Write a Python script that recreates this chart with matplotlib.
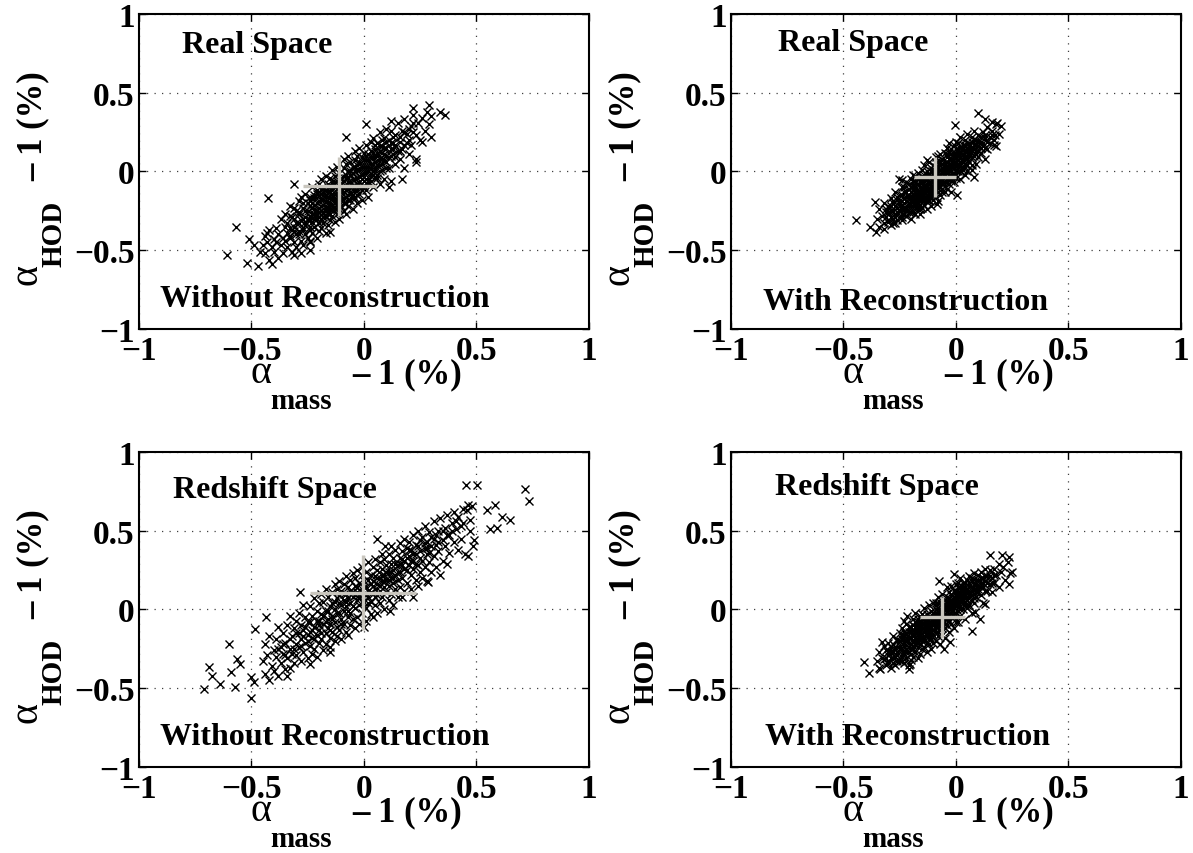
import numpy as np
import matplotlib
matplotlib.use("Agg")
from matplotlib import pyplot as plt

plt.rcParams["font.family"] = ["Liberation Serif", "DejaVu Serif"]
plt.rcParams["font.weight"] = "bold"

# alpha_HOD - 1 against alpha_mass - 1 (in %) for each mock
real_norecon = [
    # sparse tails
    (-0.61,-0.53), (-0.57,-0.35), (-0.52,-0.58), (-0.47,-0.60), (-0.41,-0.59), (-0.51,-0.43),
    (-0.49,-0.47), (-0.46,-0.51), (-0.43,-0.39), (-0.425,-0.17), (-0.31,-0.08), (-0.24,-0.50),
    (-0.24,-0.45), (-0.15,-0.385), (-0.31,-0.53), (-0.28,-0.52), (-0.08,0.22), (0.01,0.30),
    (0.29,0.42), (0.34,0.38), (0.36,0.36), (0.30,0.35), (0.22,0.40), (0.17,-0.05), (0.11,-0.10),
    (0.23,0.06), (0.26,0.19), (0.12,0.32),
    # body
    (-0.45,-0.47), (-0.44,-0.41), (-0.44,-0.52), (-0.43,-0.45), (-0.42,-0.56), (-0.42,-0.37),
    (-0.41,-0.48), (-0.40,-0.43),
    (-0.40,-0.51), (-0.39,-0.36), (-0.39,-0.45), (-0.38,-0.55), (-0.38,-0.40), (-0.37,-0.30),
    (-0.37,-0.47), (-0.36,-0.42), (-0.36,-0.52), (-0.35,-0.35), (-0.35,-0.44),
    (-0.35,-0.27), (-0.34,-0.39), (-0.34,-0.48), (-0.34,-0.33), (-0.33,-0.42), (-0.33,-0.22),
    (-0.32,-0.37), (-0.32,-0.51), (-0.32,-0.29), (-0.31,-0.45), (-0.31,-0.35), (-0.30,-0.40),
    (-0.30,-0.25), (-0.30,-0.48),
    (-0.30,-0.33), (-0.29,-0.19), (-0.29,-0.38), (-0.29,-0.27), (-0.28,-0.44), (-0.28,-0.31),
    (-0.28,-0.16), (-0.27,-0.36), (-0.27,-0.23), (-0.27,-0.47), (-0.26,-0.29), (-0.26,-0.40),
    (-0.26,-0.14), (-0.26,-0.34), (-0.25,-0.25), (-0.25,-0.42), (-0.25,-0.20), (-0.25,-0.31),
    (-0.24,-0.37), (-0.24,-0.18), (-0.24,-0.28), (-0.24,-0.44), (-0.23,-0.10), (-0.23,-0.32),
    (-0.23,-0.23), (-0.23,-0.39), (-0.22,-0.15), (-0.22,-0.27), (-0.22,-0.35), (-0.22,-0.21),
    (-0.21,-0.42), (-0.21,-0.30), (-0.21,-0.12), (-0.21,-0.25), (-0.20,-0.19), (-0.20,-0.33),
    (-0.20,-0.08), (-0.20,-0.38), (-0.20,-0.26), (-0.24,-0.31),
    (-0.19,-0.14), (-0.19,-0.30), (-0.19,-0.22), (-0.19,-0.05), (-0.19,-0.36), (-0.18,-0.26),
    (-0.18,-0.11), (-0.18,-0.18), (-0.18,-0.33), (-0.17,-0.03), (-0.17,-0.23), (-0.17,-0.29),
    (-0.17,-0.15), (-0.17,-0.39), (-0.16,-0.08), (-0.16,-0.20), (-0.16,-0.27), (-0.16,-0.34),
    (-0.16,-0.13), (-0.15,-0.24), (-0.15,-0.17), (-0.15,-0.04), (-0.15,-0.31), (-0.15,-0.10),
    (-0.14,-0.21), (-0.14,-0.07), (-0.14,-0.28), (-0.14,-0.14), (-0.14,0.01), (-0.13,-0.18),
    (-0.13,-0.24), (-0.13,-0.10), (-0.13,-0.32), (-0.13,-0.03), (-0.12,-0.15), (-0.12,-0.21),
    (-0.12,-0.27), (-0.12,-0.06), (-0.12,0.03), (-0.11,-0.12), (-0.11,-0.19), (-0.11,-0.30),
    (-0.11,-0.01), (-0.11,-0.24), (-0.10,-0.08), (-0.10,-0.16), (-0.10,-0.22), (-0.10,-0.04),
    (-0.10,-0.13),
    (-0.09,-0.17), (-0.09,0.02), (-0.09,-0.09), (-0.09,-0.25), (-0.09,0.08), (-0.08,-0.12),
    (-0.08,-0.04), (-0.08,-0.20), (-0.08,0.05), (-0.08,-0.27), (-0.07,-0.07), (-0.07,-0.15),
    (-0.07,0.00), (-0.07,-0.22), (-0.07,0.10), (-0.06,-0.10), (-0.06,-0.02), (-0.06,-0.18),
    (-0.06,0.06), (-0.06,-0.13), (-0.05,-0.05), (-0.05,-0.24), (-0.05,0.03), (-0.05,-0.15),
    (-0.04,-0.09), (-0.04,0.07), (-0.04,-0.17), (-0.04,0.00), (-0.04,0.13), (-0.03,-0.04),
    (-0.03,-0.12), (-0.03,0.04), (-0.03,-0.20), (-0.03,0.10), (-0.02,-0.07), (-0.02,0.01),
    (-0.02,-0.14), (-0.02,0.15), (-0.02,0.06), (-0.01,-0.02), (-0.01,-0.10), (-0.01,0.09),
    (-0.01,-0.18), (0.00,0.03), (0.00,-0.06), (0.00,0.12),
    (0.01,-0.01), (0.01,0.07), (0.01,-0.12), (0.01,0.17), (0.02,0.03), (0.02,-0.06),
    (0.02,0.11), (0.02,-0.16), (0.03,0.05), (0.03,0.19), (0.03,-0.03), (0.03,0.13),
    (0.04,0.00), (0.04,0.09), (0.04,-0.10), (0.04,0.21), (0.05,0.06), (0.05,-0.04),
    (0.05,0.14), (0.05,0.02),
    (0.06,0.10), (0.06,-0.02), (0.06,0.18), (0.07,0.04), (0.07,0.13), (0.07,0.25),
    (0.07,-0.08), (0.08,0.08), (0.08,0.16), (0.08,0.01), (0.09,0.21), (0.09,0.11),
    (0.09,-0.05), (0.10,0.06), (0.10,0.15), (0.10,0.27),
    (0.11,0.09), (0.11,0.20), (0.11,0.02), (0.12,0.14), (0.12,0.26), (0.12,-0.06),
    (0.13,0.11), (0.13,0.18), (0.14,0.05), (0.14,0.23), (0.15,0.13), (0.15,0.31),
    (0.16,0.19), (0.16,0.08), (0.17,0.26), (0.17,0.14), (0.18,0.02), (0.18,0.33),
    (0.19,0.18), (0.19,0.24), (0.20,0.11),
    (0.21,0.29), (0.21,0.17), (0.22,0.36), (0.23,0.23), (0.23,0.08), (0.24,0.31), (0.25,0.20),
    (0.26,0.34), (0.27,0.26), (0.28,0.38), (0.29,0.30), (0.30,0.22),
    # dense middle
    (-0.33,-0.36), (-0.33,-0.28), (-0.33,-0.41), (-0.31,-0.30), (-0.31,-0.38), (-0.31,-0.23),
    (-0.29,-0.33), (-0.29,-0.26), (-0.29,-0.40), (-0.27,-0.30), (-0.27,-0.20), (-0.27,-0.37),
    (-0.26,-0.25), (-0.26,-0.32), (-0.24,-0.22), (-0.24,-0.29), (-0.24,-0.35), (-0.24,-0.16),
    (-0.23,-0.27), (-0.23,-0.20), (-0.22,-0.24), (-0.22,-0.30), (-0.22,-0.17), (-0.21,-0.20),
    (-0.21,-0.27), (-0.21,-0.14), (-0.20,-0.23), (-0.20,-0.15), (-0.20,-0.29), (-0.19,-0.18),
    (-0.19,-0.25), (-0.19,-0.11), (-0.18,-0.21), (-0.18,-0.15), (-0.18,-0.29), (-0.17,-0.19),
    (-0.17,-0.12), (-0.17,-0.25), (-0.16,-0.16), (-0.16,-0.23), (-0.16,-0.10), (-0.15,-0.20),
    (-0.15,-0.13), (-0.15,-0.27), (-0.14,-0.17), (-0.14,-0.10), (-0.14,-0.24), (-0.13,-0.14),
    (-0.13,-0.20), (-0.13,-0.07), (-0.12,-0.18), (-0.12,-0.11), (-0.12,-0.24), (-0.11,-0.15),
    (-0.11,-0.08), (-0.11,-0.21), (-0.10,-0.11), (-0.10,-0.18), (-0.10,-0.05), (-0.09,-0.13),
    (-0.09,-0.06), (-0.09,-0.20), (-0.08,-0.09), (-0.08,-0.16), (-0.08,-0.02), (-0.07,-0.11),
    (-0.07,-0.04), (-0.07,-0.18), (-0.06,-0.07), (-0.06,-0.14), (-0.06,0.00), (-0.05,-0.09),
    (-0.05,-0.01), (-0.05,-0.17), (-0.04,-0.05), (-0.04,-0.12), (-0.04,0.03), (-0.03,-0.08),
    (-0.03,0.01), (-0.03,-0.15), (-0.02,-0.03), (-0.02,-0.10), (-0.02,0.05), (-0.01,-0.05),
    (-0.01,0.03), (-0.01,-0.12), (0.00,-0.01), (0.00,0.07), (0.00,-0.09), (0.01,0.03),
    (0.01,-0.05), (0.01,0.10), (0.02,0.00), (0.02,0.07), (0.02,-0.08), (0.03,0.02),
    (0.03,0.09), (0.03,-0.06), (0.04,0.05), (0.04,-0.02), (0.04,0.12), (0.05,0.09),
    (0.05,0.01), (0.05,0.17), (0.06,0.04), (0.06,0.12), (0.06,-0.04), (0.07,0.08),
    (0.07,0.16), (0.07,0.00), (0.08,0.12), (0.08,0.05), (0.08,0.20), (0.09,0.07),
    (0.09,0.15), (0.10,0.10), (0.10,0.19), (0.10,0.02), (0.12,0.10), (0.12,0.18),
    (0.13,0.14), (0.13,0.22), (0.14,0.09), (0.14,0.17), (0.16,0.13), (0.16,0.22),
    (0.18,0.17), (0.18,0.25), (0.20,0.20), (0.20,0.27), (0.22,0.25), (0.22,0.31),
]

real_recon = [
    (-0.444,-0.311), (-0.381,-0.353), (-0.356,-0.385), (-0.321,-0.364), (-0.359,-0.195),
    (0.10,0.372), (0.16,0.313), (0.182,0.309), (0.13,0.334), (0.175,0.229), (0.167,0.165),
    (0.079,-0.036), (0.004,-0.152), (-0.084,-0.205), (-0.003,0.292), (-0.24,-0.057),
    (-0.255,-0.047),
    (-0.35,-0.30), (-0.34,-0.35), (-0.34,-0.24), (-0.33,-0.28), (-0.32,-0.33), (-0.32,-0.20),
    (-0.31,-0.26), (-0.30,-0.31),
    (-0.30,-0.22), (-0.30,-0.27), (-0.29,-0.34), (-0.29,-0.17), (-0.29,-0.25), (-0.28,-0.30),
    (-0.28,-0.20), (-0.27,-0.27), (-0.27,-0.13), (-0.27,-0.33), (-0.26,-0.23), (-0.26,-0.18),
    (-0.25,-0.29), (-0.25,-0.25),
    (-0.25,-0.15), (-0.25,-0.20), (-0.24,-0.27), (-0.24,-0.10), (-0.24,-0.22), (-0.24,-0.31),
    (-0.23,-0.17), (-0.23,-0.24), (-0.23,-0.13), (-0.22,-0.28), (-0.22,-0.19), (-0.22,-0.07),
    (-0.22,-0.23), (-0.21,-0.15), (-0.21,-0.26), (-0.21,-0.11), (-0.21,-0.20), (-0.20,-0.30),
    (-0.20,-0.17), (-0.20,-0.05), (-0.20,-0.22), (-0.20,-0.13),
    (-0.19,-0.09), (-0.19,-0.19), (-0.19,-0.26), (-0.19,-0.14), (-0.19,-0.02), (-0.18,-0.22),
    (-0.18,-0.11), (-0.18,-0.17), (-0.18,-0.06), (-0.18,-0.27), (-0.17,-0.13), (-0.17,-0.20),
    (-0.17,-0.01), (-0.17,-0.08), (-0.17,-0.24), (-0.16,-0.16), (-0.16,-0.10), (-0.16,-0.21),
    (-0.16,-0.04), (-0.16,-0.13), (-0.16,-0.27), (-0.15,-0.18), (-0.15,-0.07), (-0.15,-0.12),
    (-0.15,-0.23), (-0.15,0.01), (-0.17,-0.16), (-0.19,-0.12), (-0.18,-0.03), (-0.16,-0.19),
    (-0.14,-0.09), (-0.14,-0.15), (-0.14,-0.02), (-0.14,-0.21), (-0.14,0.04), (-0.13,-0.12),
    (-0.13,-0.05), (-0.13,-0.18), (-0.13,0.00), (-0.13,-0.24), (-0.12,-0.08), (-0.12,-0.14),
    (-0.12,0.06), (-0.12,-0.02), (-0.12,-0.19), (-0.11,-0.11), (-0.11,-0.04), (-0.11,-0.16),
    (-0.11,0.02), (-0.11,-0.22), (-0.10,-0.07), (-0.10,-0.13), (-0.10,0.04), (-0.10,-0.01),
    (-0.10,-0.18), (-0.14,-0.06), (-0.13,-0.09), (-0.12,-0.11), (-0.11,-0.07), (-0.10,-0.10),
    (-0.15,-0.03), (-0.13,0.07), (-0.12,-0.16), (-0.11,0.00),
    (-0.09,-0.04), (-0.09,0.03), (-0.09,-0.10), (-0.09,-0.16), (-0.09,0.09), (-0.08,-0.07),
    (-0.08,0.00), (-0.08,-0.13), (-0.08,0.06), (-0.08,-0.19), (-0.07,-0.02), (-0.07,-0.09),
    (-0.07,0.04), (-0.07,0.11), (-0.07,-0.15), (-0.06,-0.05), (-0.06,0.02), (-0.06,-0.11),
    (-0.06,0.08), (-0.06,-0.01), (-0.05,-0.07), (-0.05,0.05), (-0.05,0.12), (-0.05,-0.13),
    (-0.05,0.00), (-0.09,-0.01), (-0.08,-0.04), (-0.07,0.01), (-0.06,-0.08), (-0.05,0.03),
    (-0.09,0.06), (-0.08,0.10), (-0.07,-0.06), (-0.06,0.05),
    (-0.04,0.02), (-0.04,0.09), (-0.04,-0.05), (-0.04,0.15), (-0.04,-0.11), (-0.03,0.05),
    (-0.03,0.00), (-0.03,0.12), (-0.03,-0.08), (-0.03,0.18), (-0.02,0.03), (-0.02,0.08),
    (-0.02,-0.03), (-0.02,0.14), (-0.02,-0.13), (-0.01,0.06), (-0.01,0.11), (-0.01,-0.01),
    (-0.01,0.17), (-0.01,-0.07), (0.00,0.04), (0.00,0.09), (0.00,0.14), (0.00,-0.04),
    (0.00,0.01), (-0.04,0.06), (-0.03,0.08), (-0.02,0.11), (-0.01,0.02), (0.00,0.19),
    (0.01,0.07), (0.01,0.12), (0.01,0.00), (0.01,0.18), (0.02,0.09), (0.02,0.04),
    (0.02,0.15), (0.02,-0.05), (0.02,0.22), (0.03,0.06), (0.03,0.11), (0.03,0.17),
    (0.03,0.01), (0.04,0.13), (0.04,0.08), (0.04,0.20), (0.04,-0.02), (0.05,0.10),
    (0.05,0.15), (0.05,0.04), (0.05,0.24), (0.03,0.14), (0.01,0.10), (0.04,0.03),
    (0.06,0.12), (0.06,0.18), (0.06,0.06), (0.07,0.15), (0.07,0.22), (0.07,0.01),
    (0.08,0.10), (0.08,0.17), (0.08,0.26), (0.09,0.13), (0.09,0.20), (0.09,0.05),
    (0.10,0.16), (0.10,0.23), (0.10,0.09), (0.07,0.09),
    (0.11,0.19), (0.11,0.12), (0.12,0.25), (0.12,0.16), (0.13,0.08), (0.13,0.21),
    (0.14,0.28), (0.14,0.14), (0.15,0.22), (0.15,0.18),
    (0.16,0.26), (0.17,0.20), (0.18,0.30), (0.18,0.16), (0.19,0.24), (0.20,0.29),
    # dense middle
    (-0.31,-0.29), (-0.31,-0.24), (-0.30,-0.26), (-0.30,-0.32), (-0.29,-0.22), (-0.29,-0.29),
    (-0.28,-0.25), (-0.28,-0.33), (-0.28,-0.19), (-0.27,-0.22), (-0.27,-0.29), (-0.26,-0.26),
    (-0.26,-0.16), (-0.26,-0.31), (-0.25,-0.22), (-0.25,-0.18), (-0.24,-0.24), (-0.24,-0.15),
    (-0.24,-0.29), (-0.23,-0.20), (-0.23,-0.27), (-0.23,-0.10), (-0.22,-0.16), (-0.22,-0.25),
    (-0.22,-0.13), (-0.21,-0.22), (-0.21,-0.17), (-0.21,-0.08), (-0.20,-0.19), (-0.20,-0.26),
    (-0.20,-0.10), (-0.19,-0.16), (-0.19,-0.22), (-0.19,-0.06), (-0.18,-0.13), (-0.18,-0.20),
    (-0.18,-0.09), (-0.17,-0.17), (-0.17,-0.05), (-0.17,-0.22), (-0.16,-0.14), (-0.16,-0.07),
    (-0.16,-0.24), (-0.15,-0.10), (-0.15,-0.16), (-0.15,-0.05), (-0.14,-0.13), (-0.14,-0.18),
    (-0.14,-0.04), (-0.13,-0.10), (-0.13,-0.15), (-0.13,-0.02), (-0.12,-0.07), (-0.12,-0.12),
    (-0.12,-0.18), (-0.11,-0.09), (-0.11,-0.03), (-0.11,-0.14), (-0.10,-0.05), (-0.10,-0.12),
    (-0.10,0.01), (-0.09,-0.07), (-0.09,-0.12), (-0.09,0.00), (-0.08,-0.02), (-0.08,-0.09),
    (-0.08,0.03), (-0.07,-0.04), (-0.07,-0.10), (-0.07,0.06), (-0.06,0.00), (-0.06,-0.06),
    (-0.06,-0.13), (-0.05,-0.02), (-0.05,0.03), (-0.05,-0.09), (-0.04,0.00), (-0.04,-0.07),
    (-0.04,0.11), (-0.03,0.03), (-0.03,-0.03), (-0.03,0.08), (-0.02,0.00), (-0.02,0.05),
    (-0.02,-0.06), (-0.01,0.04), (-0.01,0.09), (-0.01,-0.03), (0.00,0.06), (0.00,0.11),
    (0.00,0.00), (0.01,0.03), (0.01,0.14), (0.01,0.05), (0.02,0.06), (0.02,0.12),
    (0.02,0.00), (0.03,0.08), (0.03,0.03), (0.03,0.15), (0.04,0.10), (0.04,0.05),
    (0.04,0.17), (0.05,0.08), (0.05,0.13), (0.05,0.00), (0.06,0.10), (0.06,0.16),
    (0.07,0.13), (0.07,0.19), (0.07,0.04), (0.08,0.14), (0.08,0.20), (0.09,0.11),
    (0.09,0.17), (0.10,0.13), (0.10,0.19), (0.11,0.15), (0.11,0.22), (0.12,0.18),
    (0.13,0.15), (0.13,0.23), (0.14,0.19), (0.16,0.23),
]

redshift_norecon = [
    (-0.711,-0.506), (-0.687,-0.368), (-0.676,-0.421), (-0.64,-0.474), (-0.60,-0.22),
    (-0.591,-0.40), (-0.573,-0.489), (-0.566,-0.315), (-0.551,-0.347), (-0.502,-0.559),
    (-0.50,-0.43), (-0.49,-0.46), (-0.484,-0.124), (-0.437,-0.05), (-0.284,0.109),
    (0.453,0.788), (0.504,0.792), (0.717,0.767), (0.735,0.686), (0.582,0.665), (0.545,0.629),
    (0.649,0.565), (0.615,0.586), (0.59,0.516), (0.56,0.512), (0.486,0.406), (0.464,0.342),
    (0.464,0.661), (0.219,0.077), (0.116,-0.007), (0.056,0.448), (0.093,0.406), (0.286,0.173),
    (-0.24,-0.347), (-0.344,-0.421), (-0.151,-0.273),
    (-0.45,-0.33), (-0.44,-0.41), (-0.44,-0.22), (-0.43,-0.29), (-0.42,-0.45), (-0.42,-0.17),
    (-0.41,-0.36), (-0.40,-0.26),
    (-0.40,-0.39), (-0.39,-0.19), (-0.39,-0.30), (-0.38,-0.11), (-0.38,-0.42), (-0.37,-0.24),
    (-0.37,-0.34), (-0.36,-0.15), (-0.36,-0.28), (-0.35,-0.38),
    (-0.35,-0.21), (-0.34,-0.10), (-0.34,-0.31), (-0.33,-0.25), (-0.33,-0.04), (-0.33,-0.37),
    (-0.32,-0.17), (-0.32,-0.28), (-0.31,-0.12), (-0.31,-0.34), (-0.30,-0.22), (-0.30,-0.07),
    (-0.30,-0.29), (-0.29,-0.15), (-0.29,-0.02), (-0.29,-0.24), (-0.28,-0.33), (-0.28,-0.10),
    (-0.28,-0.19), (-0.27,0.03), (-0.27,-0.27), (-0.27,-0.13), (-0.26,-0.21), (-0.26,-0.05),
    (-0.25,-0.31), (-0.25,-0.16),
    (-0.25,-0.08), (-0.24,-0.23), (-0.24,0.02), (-0.24,-0.14), (-0.23,-0.28), (-0.23,-0.04),
    (-0.23,-0.18), (-0.22,0.07), (-0.22,-0.11), (-0.22,-0.25), (-0.21,-0.01), (-0.21,-0.16),
    (-0.21,-0.30), (-0.20,-0.07), (-0.20,-0.21), (-0.20,0.04),
    (-0.20,-0.13), (-0.19,0.10), (-0.19,-0.03), (-0.19,-0.19), (-0.18,-0.26), (-0.18,-0.09),
    (-0.18,0.05), (-0.17,-0.15), (-0.17,-0.01), (-0.17,0.13), (-0.17,-0.22), (-0.16,-0.06),
    (-0.16,-0.12), (-0.16,0.08), (-0.15,-0.18), (-0.15,0.02), (-0.15,-0.24), (-0.15,-0.09),
    (-0.14,0.11), (-0.14,-0.04), (-0.14,-0.14), (-0.14,0.04), (-0.13,-0.20), (-0.13,0.16),
    (-0.13,-0.08), (-0.13,0.00), (-0.12,0.07), (-0.12,-0.11), (-0.12,-0.17), (-0.12,0.13),
    (-0.11,-0.02), (-0.11,0.09), (-0.11,-0.13), (-0.11,0.18), (-0.10,-0.06), (-0.10,0.03),
    (-0.10,-0.19), (-0.10,0.12),
    (-0.09,0.06), (-0.09,-0.09), (-0.09,0.16), (-0.09,-0.01), (-0.08,0.21), (-0.08,-0.14),
    (-0.08,0.10), (-0.08,0.02), (-0.07,-0.05), (-0.07,0.14), (-0.07,0.07), (-0.07,-0.16),
    (-0.06,0.19), (-0.06,-0.02), (-0.06,0.04), (-0.06,-0.10), (-0.05,0.11), (-0.05,0.23),
    (-0.05,-0.06), (-0.05,0.08),
    (-0.04,0.01), (-0.04,0.15), (-0.04,-0.12), (-0.04,0.20), (-0.03,0.06), (-0.03,-0.05),
    (-0.03,0.25), (-0.03,0.11), (-0.02,-0.09), (-0.02,0.17), (-0.02,0.03), (-0.02,0.09),
    (-0.01,0.22), (-0.01,-0.02), (-0.01,0.13), (-0.01,0.27), (0.00,0.05), (0.00,-0.11),
    (0.00,0.18), (0.00,0.10),
    (0.01,0.14), (0.01,0.01), (0.01,0.24), (0.01,-0.07), (0.02,0.08), (0.02,0.19),
    (0.02,0.30), (0.02,0.12), (0.03,-0.03), (0.03,0.16), (0.03,0.22), (0.03,0.05),
    (0.04,0.27), (0.04,0.10), (0.04,-0.05), (0.04,0.18), (0.05,0.03), (0.05,0.13),
    (0.05,0.32), (0.05,0.21),
    (0.06,0.09), (0.06,0.25), (0.06,0.16), (0.06,-0.02), (0.07,0.30), (0.07,0.12),
    (0.07,0.20), (0.07,0.04), (0.08,0.35), (0.08,0.18), (0.08,0.08), (0.08,0.26),
    (0.09,0.14), (0.09,0.00), (0.09,0.22), (0.09,0.32), (0.10,0.11), (0.10,0.19), (0.10,0.28),
    (0.11,0.24), (0.11,0.06), (0.11,0.35), (0.11,0.15), (0.12,0.29), (0.12,0.20),
    (0.12,0.40), (0.12,0.10), (0.13,0.03), (0.13,0.25), (0.13,0.17), (0.13,0.33),
    (0.14,0.22), (0.14,0.13), (0.14,0.38), (0.15,0.28), (0.15,0.08), (0.15,0.19),
    (0.16,0.33), (0.16,0.24), (0.16,0.14), (0.16,0.42), (0.17,0.08), (0.17,0.28),
    (0.17,0.37), (0.17,0.20), (0.18,0.45), (0.18,0.31), (0.18,0.12), (0.19,0.25),
    (0.19,0.39), (0.19,0.17), (0.20,0.34), (0.20,0.28), (0.20,0.43),
    (0.21,0.22), (0.21,0.38), (0.21,0.13), (0.22,0.31), (0.22,0.47), (0.22,0.26),
    (0.23,0.19), (0.23,0.41), (0.23,0.35), (0.24,0.50), (0.24,0.28), (0.24,0.15),
    (0.25,0.37), (0.25,0.44), (0.25,0.24),
    (0.26,0.31), (0.26,0.46), (0.26,0.20), (0.27,0.39), (0.27,0.53), (0.27,0.27),
    (0.28,0.35), (0.28,0.43), (0.28,0.18), (0.29,0.49), (0.29,0.30), (0.30,0.40), (0.30,0.24),
    (0.31,0.45), (0.31,0.34), (0.31,0.56), (0.32,0.27), (0.32,0.41), (0.33,0.50),
    (0.33,0.37), (0.34,0.22), (0.34,0.58), (0.35,0.44), (0.35,0.31),
    (0.36,0.52), (0.36,0.40), (0.37,0.60), (0.37,0.29), (0.38,0.47), (0.38,0.36),
    (0.39,0.55), (0.40,0.43), (0.40,0.62),
    (0.41,0.51), (0.42,0.38), (0.42,0.59), (0.43,0.45), (0.44,0.64), (0.44,0.55), (0.45,0.35),
    (0.46,0.63), (0.47,0.50), (0.47,0.57), (0.48,0.66), (0.49,0.44),
    # dense middle
    (-0.38,-0.25), (-0.36,-0.22), (-0.35,-0.29), (-0.33,-0.19), (-0.31,-0.25), (-0.30,-0.15),
    (-0.28,-0.23), (-0.27,-0.17), (-0.26,-0.11), (-0.25,-0.20), (-0.24,-0.08), (-0.23,-0.13),
    (-0.22,-0.19), (-0.21,-0.07), (-0.20,-0.10), (-0.19,-0.15), (-0.18,-0.04), (-0.17,-0.08),
    (-0.16,-0.01), (-0.15,-0.13), (-0.14,-0.06), (-0.13,0.05), (-0.12,-0.02), (-0.11,0.04),
    (-0.10,-0.09), (-0.09,0.10), (-0.08,0.05), (-0.07,-0.01), (-0.06,0.12), (-0.05,0.02),
    (-0.04,0.09), (-0.03,0.14), (-0.02,0.07), (-0.01,0.05), (0.00,0.14), (0.01,0.09),
    (0.02,0.04), (0.03,0.11), (0.04,0.15), (0.05,0.08), (0.06,0.20), (0.07,0.15),
    (0.08,0.22), (0.09,0.18), (0.10,0.24), (0.11,0.19), (0.12,0.24), (0.13,0.20),
    (0.14,0.29), (0.15,0.24), (0.16,0.29), (0.17,0.32), (0.18,0.26), (0.19,0.33),
    (0.20,0.38), (0.21,0.31), (0.22,0.35), (0.23,0.29), (0.24,0.40), (0.25,0.33),
    (0.27,0.42), (0.28,0.39), (0.29,0.36), (0.30,0.46), (0.32,0.47), (0.33,0.43),
    (0.35,0.50), (0.37,0.47), (0.39,0.50), (0.41,0.56), (0.43,0.53),
]

redshift_recon = [
    (-0.41,-0.336), (-0.385,-0.406), (-0.329,-0.209), (-0.321,-0.315), (-0.336,-0.379),
    (-0.21,-0.379), (-0.203,-0.347), (-0.055,-0.251), (-0.025,-0.209), (0.071,-0.135),
    (0.105,-0.06), (0.086,-0.018), (0.153,0.349), (0.204,0.347), (0.234,0.332), (0.249,0.241),
    (0.234,0.162), (0.13,0.035), (-0.077,0.183), (-0.218,-0.039), (-0.233,-0.07), (-0.01,0.226),
    (-0.35,-0.33), (-0.34,-0.37), (-0.34,-0.27), (-0.33,-0.31), (-0.32,-0.23), (-0.31,-0.35),
    (-0.30,-0.29),
    (-0.30,-0.34), (-0.30,-0.21), (-0.29,-0.27), (-0.29,-0.37), (-0.28,-0.17), (-0.28,-0.31),
    (-0.27,-0.24), (-0.27,-0.35), (-0.26,-0.20), (-0.26,-0.29), (-0.25,-0.33), (-0.25,-0.15),
    (-0.25,-0.25), (-0.24,-0.19), (-0.24,-0.30), (-0.24,-0.12), (-0.23,-0.23), (-0.23,-0.34),
    (-0.23,-0.16), (-0.22,-0.27), (-0.22,-0.09), (-0.22,-0.20), (-0.22,-0.31), (-0.21,-0.14),
    (-0.21,-0.24), (-0.21,-0.35), (-0.21,-0.18), (-0.20,-0.28), (-0.20,-0.11), (-0.20,-0.22),
    (-0.20,-0.32), (-0.24,-0.26),
    (-0.19,-0.15), (-0.19,-0.25), (-0.19,-0.06), (-0.19,-0.20), (-0.19,-0.30), (-0.18,-0.11),
    (-0.18,-0.18), (-0.18,-0.27), (-0.18,-0.02), (-0.18,-0.22), (-0.17,-0.14), (-0.17,-0.08),
    (-0.17,-0.31), (-0.17,-0.24), (-0.17,-0.19), (-0.16,-0.12), (-0.16,-0.04), (-0.16,-0.28),
    (-0.16,-0.17), (-0.16,-0.22), (-0.15,-0.09), (-0.15,-0.15), (-0.15,-0.25), (-0.15,-0.03),
    (-0.15,-0.20), (-0.18,-0.14), (-0.17,-0.11), (-0.16,-0.08),
    (-0.14,-0.12), (-0.14,-0.06), (-0.14,-0.18), (-0.14,-0.24), (-0.14,0.01), (-0.13,-0.09),
    (-0.13,-0.15), (-0.13,-0.21), (-0.13,-0.03), (-0.13,-0.27), (-0.12,-0.11), (-0.12,-0.05),
    (-0.12,-0.17), (-0.12,0.03), (-0.12,-0.22), (-0.11,-0.08), (-0.11,-0.14), (-0.11,-0.01),
    (-0.11,-0.19), (-0.11,-0.25), (-0.10,-0.04), (-0.10,-0.10), (-0.10,-0.16), (-0.10,0.04),
    (-0.10,-0.21), (-0.14,-0.09), (-0.13,-0.12), (-0.12,-0.08), (-0.11,-0.11), (-0.10,-0.07),
    (-0.12,-0.14), (-0.13,-0.06),
    (-0.09,-0.02), (-0.09,-0.08), (-0.09,-0.14), (-0.09,0.04), (-0.09,-0.20), (-0.08,-0.05),
    (-0.08,-0.11), (-0.08,0.01), (-0.08,-0.17), (-0.08,0.08), (-0.07,-0.01), (-0.07,-0.07),
    (-0.07,-0.13), (-0.07,0.05), (-0.07,-0.22), (-0.06,-0.04), (-0.06,-0.10), (-0.06,0.02),
    (-0.06,-0.16), (-0.06,0.10), (-0.05,-0.06), (-0.05,0.00), (-0.05,-0.12), (-0.05,0.06),
    (-0.05,-0.18), (-0.09,-0.05), (-0.08,-0.08), (-0.07,-0.03), (-0.06,-0.07), (-0.05,-0.03),
    (-0.08,0.04), (-0.06,-0.01),
    (-0.04,0.02), (-0.04,-0.04), (-0.04,0.08), (-0.04,-0.10), (-0.04,0.14), (-0.03,0.00),
    (-0.03,0.05), (-0.03,-0.07), (-0.03,0.11), (-0.03,-0.14), (-0.02,0.03), (-0.02,-0.02),
    (-0.02,0.09), (-0.02,-0.09), (-0.02,0.15), (-0.01,0.06), (-0.01,0.01), (-0.01,-0.05),
    (-0.01,0.12), (-0.01,-0.12), (0.00,0.04), (0.00,0.09), (0.00,-0.02), (0.00,0.16),
    (0.00,-0.08), (-0.04,0.05), (-0.03,0.02), (-0.02,0.06), (-0.01,0.03), (0.00,0.07),
    (0.01,0.05), (0.01,0.11), (0.01,-0.01), (0.01,0.17), (0.01,-0.08), (0.02,0.08),
    (0.02,0.02), (0.02,0.14), (0.02,-0.04), (0.02,0.20), (0.03,0.06), (0.03,0.12),
    (0.03,0.00), (0.03,0.17), (0.04,0.09), (0.04,0.03), (0.04,0.14), (0.04,-0.06),
    (0.05,0.11), (0.05,0.06), (0.05,0.19), (0.05,0.01), (0.02,0.10), (0.03,0.09),
    (0.04,0.12), (0.01,0.08),
    (0.06,0.09), (0.06,0.15), (0.06,0.03), (0.06,0.21), (0.07,0.12), (0.07,0.06),
    (0.07,0.18), (0.07,-0.02), (0.08,0.10), (0.08,0.16), (0.08,0.23), (0.08,0.04),
    (0.09,0.13), (0.09,0.19), (0.09,0.08), (0.10,0.15), (0.10,0.22), (0.10,0.11),
    (0.11,0.17), (0.11,0.09), (0.11,0.24), (0.12,0.14), (0.12,0.20), (0.12,0.04),
    (0.13,0.18), (0.13,0.26), (0.14,0.12), (0.14,0.21), (0.15,0.16), (0.15,0.25),
    (0.16,0.20), (0.16,0.11), (0.17,0.26), (0.17,0.17), (0.18,0.22), (0.19,0.29),
    (0.19,0.14), (0.20,0.24),
    (0.21,0.27), (0.22,0.19), (0.23,0.30), (0.24,0.23),
    # dense middle
    (-0.31,-0.31), (-0.31,-0.26), (-0.30,-0.27), (-0.30,-0.33), (-0.29,-0.24), (-0.29,-0.31),
    (-0.28,-0.27), (-0.28,-0.34), (-0.28,-0.22), (-0.27,-0.25), (-0.27,-0.30), (-0.26,-0.27),
    (-0.26,-0.19), (-0.26,-0.33), (-0.25,-0.23), (-0.25,-0.20), (-0.24,-0.28), (-0.24,-0.17),
    (-0.24,-0.33), (-0.23,-0.21), (-0.23,-0.28), (-0.23,-0.14), (-0.22,-0.18), (-0.22,-0.25),
    (-0.22,-0.15), (-0.21,-0.21), (-0.21,-0.27), (-0.21,-0.11), (-0.20,-0.18), (-0.20,-0.25),
    (-0.20,-0.14), (-0.19,-0.17), (-0.19,-0.23), (-0.19,-0.10), (-0.18,-0.15), (-0.18,-0.20),
    (-0.18,-0.08), (-0.17,-0.16), (-0.17,-0.21), (-0.17,-0.06), (-0.16,-0.14), (-0.16,-0.10),
    (-0.16,-0.19), (-0.15,-0.12), (-0.15,-0.18), (-0.15,-0.06), (-0.14,-0.14), (-0.14,-0.20),
    (-0.14,-0.04), (-0.13,-0.10), (-0.13,-0.17), (-0.13,-0.07), (-0.12,-0.09), (-0.12,-0.12),
    (-0.12,-0.19), (-0.11,-0.05), (-0.11,-0.09), (-0.11,-0.16), (-0.10,-0.08), (-0.10,-0.13),
    (-0.10,-0.02), (-0.09,-0.06), (-0.09,-0.11), (-0.09,0.00), (-0.08,-0.03), (-0.08,-0.09),
    (-0.08,-0.14), (-0.07,-0.05), (-0.07,0.00), (-0.07,-0.10), (-0.06,-0.02), (-0.06,-0.07),
    (-0.06,-0.12), (-0.05,-0.04), (-0.05,0.02), (-0.05,-0.09), (-0.04,0.00), (-0.04,-0.06),
    (-0.04,0.05), (-0.03,0.02), (-0.03,-0.03), (-0.03,0.07), (-0.02,0.00), (-0.02,0.04),
    (-0.02,-0.05), (-0.01,0.04), (-0.01,0.08), (-0.01,-0.02), (0.00,0.02), (0.00,0.06),
    (0.00,0.11), (0.01,0.03), (0.01,0.09), (0.01,0.14), (0.02,0.05), (0.02,0.11),
    (0.02,0.00), (0.03,0.08), (0.03,0.04), (0.03,0.14), (0.04,0.07), (0.04,0.10),
    (0.04,0.17), (0.05,0.08), (0.05,0.13), (0.05,0.03), (0.06,0.11), (0.06,0.17),
    (0.07,0.14), (0.07,0.09), (0.07,0.20), (0.08,0.13), (0.08,0.07), (0.09,0.16),
    (0.09,0.11), (0.10,0.13), (0.10,0.19), (0.11,0.14), (0.11,0.20), (0.12,0.17),
    (0.13,0.12), (0.13,0.21), (0.14,0.17), (0.15,0.21), (0.16,0.17), (0.17,0.22),
]

# mean and scatter of each cloud (grey cross)
mean_x = [-0.11, -0.094, -0.006, -0.06]
mean_y = [-0.095, -0.036, 0.107, -0.05]
sig_x = [0.163, 0.094, 0.235, 0.10]
sig_y = [0.185, 0.128, 0.24, 0.13]

top_labels = ["Real Space", "Real Space", "Redshift Space", "Redshift Space"]
bottom_labels = ["Without Reconstruction", "With Reconstruction",
                 "Without Reconstruction", "With Reconstruction"]
top_pos = [(-0.81, 0.76), (-0.79, 0.773), (-0.85, 0.714), (-0.804, 0.733)]
bottom_pos = [(-0.907, -0.854), (-0.858, -0.873), (-0.907, -0.854), (-0.849, -0.854)]

clouds = [real_norecon, real_recon, redshift_norecon, redshift_recon]
ticks = [-1, -0.5, 0, 0.5, 1]
tick_text = ["\u22121", "\u22120.5", "0", "0.5", "1"]

fig = plt.figure(figsize=(11.93, 8.54), dpi=100)
axes_rect = [
    [0.1165, 0.6136, 0.3772, 0.3689],
    [0.6127, 0.6136, 0.3772, 0.3689],
    [0.1165, 0.1007, 0.3772, 0.3689],
    [0.6127, 0.1007, 0.3772, 0.3689],
]

cross_color = "#c9c6be"


def axis_label(ax, sub, horizontal):
    # alpha_sub - 1 (%), put together piece by piece so the subscript keeps its size
    if horizontal:
        anchor, rot = (0.5, 0.0), 0
        parts = [("\u03b1", (-113, -53), 29, "normal"),
                 (sub, (-94, -79), 21, "bold"),
                 ("\u2013 1 (%)", (-12, -53), 25, "bold")]
    else:
        anchor, rot = (0.0, 0.5), 90
        parts = [("\u03b1", (-102, -113), 29, "normal"),
                 (sub, (-77, -95), 21, "bold"),
                 ("\u2013 1 (%)", (-97, -9), 25, "bold")]
    for s, (dx, dy), size, weight in parts:
        ax.annotate(s, xy=anchor, xycoords="axes fraction",
                    xytext=(dx, dy), textcoords="offset pixels",
                    ha="left", va="baseline", rotation=rot, rotation_mode="anchor",
                    fontsize=size, fontweight=weight, annotation_clip=False)


for i, rect in enumerate(axes_rect):
    ax = fig.add_axes(rect)
    pts = np.array(clouds[i])
    ax.plot(pts[:, 0], pts[:, 1], "x", color="black", markersize=6, markeredgewidth=1.0, zorder=2)
    ax.errorbar(mean_x[i], mean_y[i], xerr=sig_x[i], yerr=sig_y[i], fmt="none",
                ecolor=cross_color, elinewidth=2.4, capsize=0, zorder=3)

    ax.set_xlim(-1, 1)
    ax.set_ylim(-1, 1)
    ax.set_xticks(ticks)
    ax.set_yticks(ticks)
    ax.set_xticklabels(tick_text, fontsize=24, fontweight="bold")
    ax.set_yticklabels(tick_text, fontsize=24, fontweight="bold")
    ax.tick_params(direction="in", length=5, width=1, top=True, right=True, pad=3)
    ax.tick_params(axis="x", pad=4)
    ax.grid(True, linestyle=(0, (1, 5)), color="0.25", linewidth=0.9)
    for sp in ax.spines.values():
        sp.set_linewidth(1.5)

    ax.text(top_pos[i][0], top_pos[i][1], top_labels[i], fontsize=23, fontweight="bold", va="baseline")
    ax.text(bottom_pos[i][0], bottom_pos[i][1], bottom_labels[i], fontsize=23, fontweight="bold", va="baseline")

    axis_label(ax, "mass", True)
    axis_label(ax, "HOD", False)

fig.savefig("out.png", dpi=100)
